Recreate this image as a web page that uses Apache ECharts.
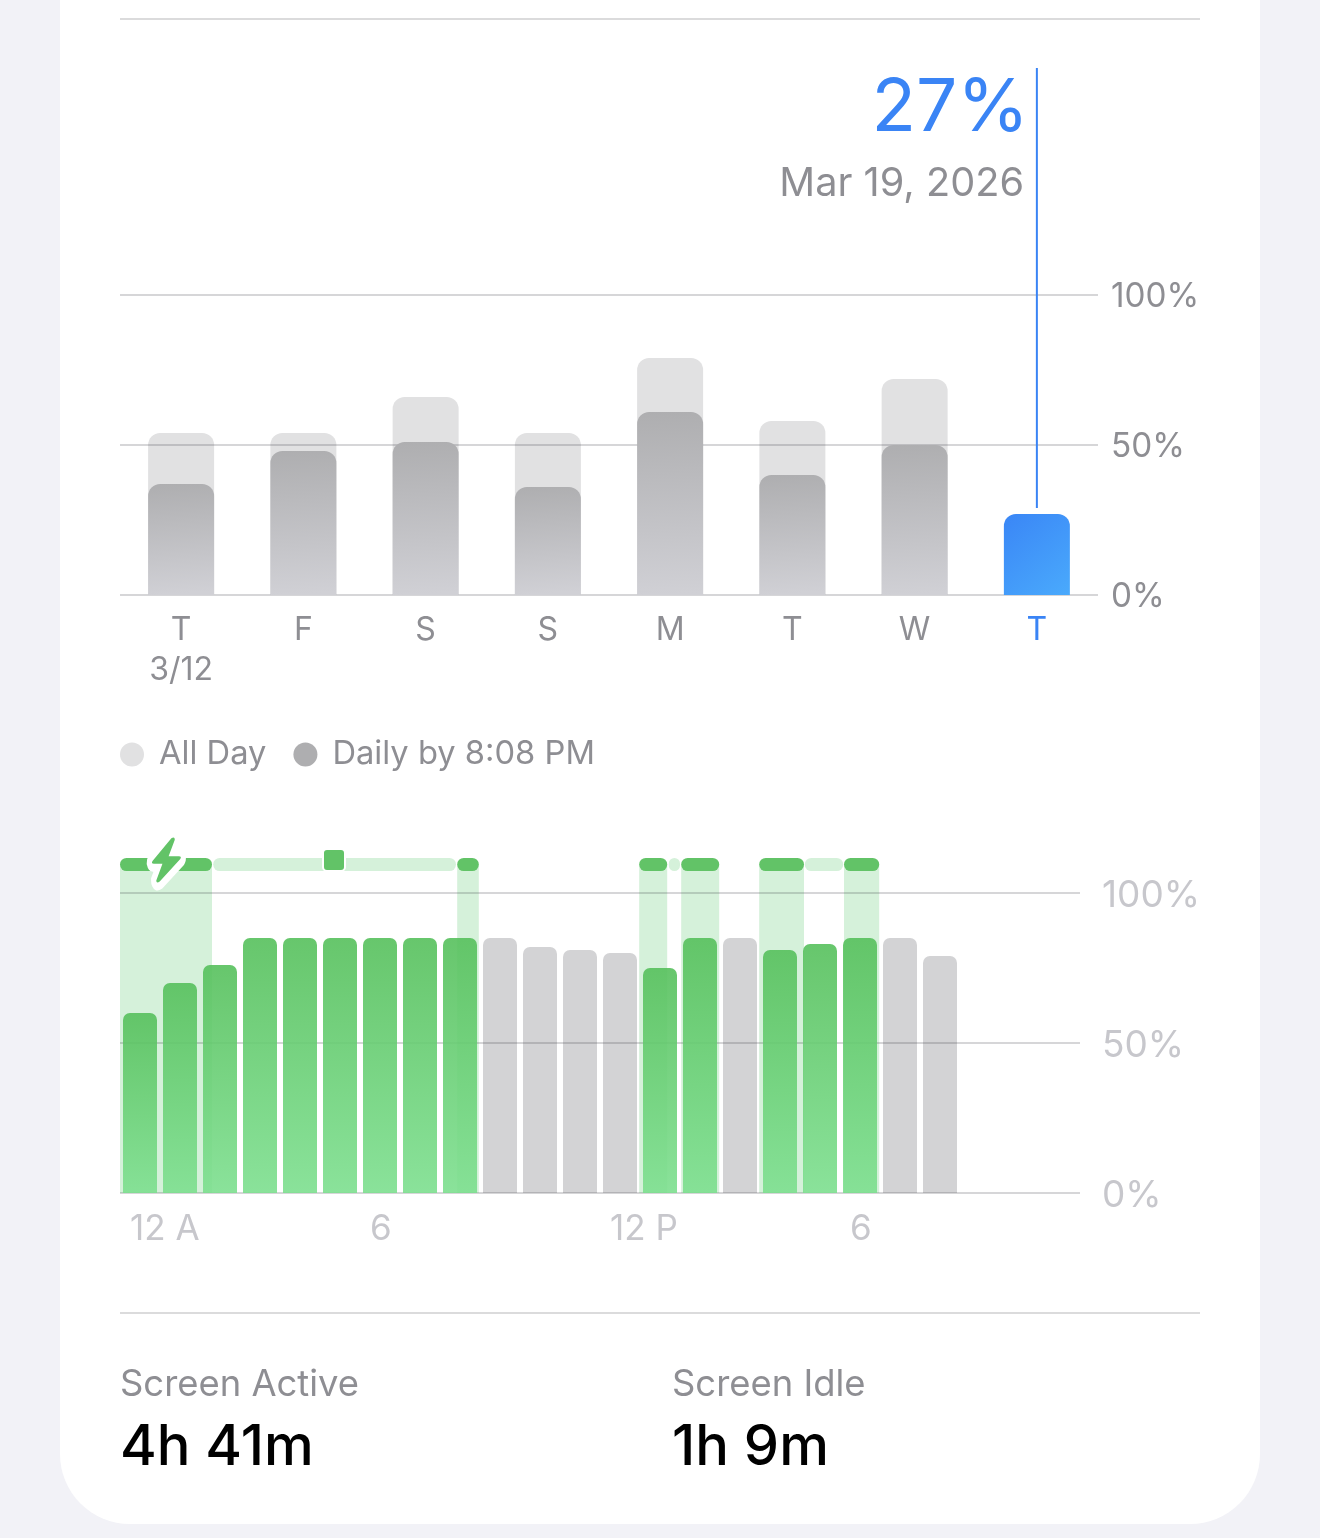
<!DOCTYPE html>
<html><head><meta charset="utf-8">
<style>html,body{margin:0;padding:0;background:#f2f2f7}#c{width:1320px;height:1538px}</style>
<script src="https://cdn.jsdelivr.net/npm/echarts@6/dist/echarts.min.js"></script>
</head><body><div id="c"></div>
<script>
const dayLabels = ['T\n3/12','F','S','S','M','T','W','T'];
const allDay = [54,54,66,54,79,58,72,null];
const byTime = [37,48,51,36,61,40,50,27];
const todayIndex = 7;
const hourLabels = ['12 A','6','12 P','6',''];
const hourCats = Array.from({length:24},(_,i)=>String(i));
const hourLevels = [60,70,76,85,85,85,85,85,85,85,82,81,80,75,85,85,81,83,85,85,79];
const hourCharging = [1,1,1,1,1,1,1,1,1,0,0,0,0,1,1,0,1,1,1,0,0];
const chargingSpans = [[0,2.3],[8.43,8.97],[12.98,13.68],[14.03,14.98],[15.98,17.1],[18.1,18.98]];
const idleSpans = [[2.33,8.4],[13.72,14.0],[17.12,18.08]];
const markerSquare = [[5.35,111]];
const markerBolt = [[1.16,111]];
const highlight = [[7,29,175.7]];
const yTicks = {0:'0%',50:'50%',100:'100%'};
const stats = [['Screen Active','4h 41m'],['Screen Idle','1h 9m']];
const legendNames = ['All Day','Daily by 8:08 PM'];
const headline = ['27%','Mar 19, 2026'];

const FONT='Inter, "Noto Sans", sans-serif';
const GREY='#8e8e93', LINE='rgba(60,60,67,0.28)';
const BOLT='path://M58 2 L3 68 Q-2 76 7 76 L32 76 L14 124 Q14 134 24 127 L84 62 Q89 54 80 54 L50 54 L68 6 Q68 -4 58 2 Z';
const lg=(a,b,x2=0)=>new echarts.graphic.LinearGradient(0,0,x2,1,[{offset:0,color:a},{offset:1,color:b}]);
const chart=echarts.init(document.getElementById('c'),null,{renderer:'canvas',width:1320,height:1538});

const txt=(x,y,text,size,color,extra={})=>({type:'text',z:10,x,y,style:Object.assign({text,fontFamily:FONT,fontSize:size,fill:color,textVerticalAlign:'middle'},extra)});
const hr=y=>({type:'line',z:1,shape:{x1:120,y1:y,x2:1200,y2:y},style:{stroke:'#cfcfd1',lineWidth:1.5}});
const yLabel=(size,color,margin,pad)=>({margin,color,fontFamily:FONT,fontSize:size,
  formatter:v=>'{a|'+yTicks[v]+'}',
  rich:{a:{fontSize:size,color,fontFamily:FONT,padding:[pad,0,0,0]}}});

const pill=(params,api,fill)=>{
  const a=api.coord([api.value(0),111.7]), b=api.coord([api.value(1),107.3]);
  return {type:'rect',shape:{x:a[0],y:a[1],width:b[0]-a[0],height:b[1]-a[1],r:6.5},style:{fill}};
};

chart.setOption({
  animation:false,
  backgroundColor:'#f2f2f7',
  textStyle:{fontFamily:FONT},
  graphic:[
    {type:'rect',z:-10,shape:{x:60,y:-80,width:1200,height:1604,r:[0,0,70,70]},style:{fill:'#fff'}},
    hr(19),hr(1313),
    txt(1029,109,headline[0],73,'#3a84f5',{textAlign:'right'}),
    txt(1024,184,headline[1],39.7,GREY,{textAlign:'right'}),
    txt(120,1385,stats[0][0],36.4,GREY),
    txt(120,1448,stats[0][1],56,'#000',{fontWeight:500}),
    txt(672,1385,stats[1][0],36.4,GREY),
    txt(672,1448,stats[1][1],56,'#000',{fontWeight:500})
  ],
  legend:{left:120,top:738,padding:0,itemWidth:24,itemHeight:24,itemGap:27,icon:'circle',
    textStyle:{color:GREY,fontSize:32.7,fontFamily:FONT,padding:[0,0,0,10]},
    data:[{name:legendNames[0],itemStyle:{color:'#e1e1e2'}},{name:legendNames[1],itemStyle:{color:'#aeaeb0'}}]},
  grid:[
    {left:120,width:978,top:295,height:300},
    {left:120,width:960,top:893,height:300}
  ],
  xAxis:[
    {type:'category',gridIndex:0,data:dayLabels,axisLine:{show:false},axisTick:{show:false},
     axisLabel:{fontSize:32,lineHeight:40,margin:15,verticalAlign:'top',fontFamily:FONT,
       color:(v,i)=>i===todayIndex?'#3a84f5':GREY}},
    {type:'category',gridIndex:1,data:hourCats,axisLine:{show:false},axisTick:{show:false},axisLabel:{show:false}},
    {type:'value',gridIndex:1,min:0,max:24,interval:6,position:'bottom',splitLine:{show:false},axisLine:{show:false},axisTick:{show:false},
     axisLabel:{align:'left',padding:[0,0,0,10],margin:19,fontSize:35,color:'#c7c7cc',fontFamily:FONT,
       formatter:v=>hourLabels[v/6]}}
  ],
  yAxis:[
    {type:'value',gridIndex:0,min:0,max:100,interval:50,position:'right',z:2,
     splitLine:{lineStyle:{color:LINE,width:1.5}},axisLine:{show:false},axisTick:{show:false},
     axisLabel:yLabel(33.3,GREY,13,3)},
    {type:'value',gridIndex:1,min:0,max:100,interval:50,position:'right',z:2,
     splitLine:{lineStyle:{color:LINE,width:1.5}},axisLine:{show:false},axisTick:{show:false},
     axisLabel:yLabel(37,'#c7c7cc',22,5)}
  ],
  series:[
    {name:legendNames[0],type:'bar',xAxisIndex:0,yAxisIndex:0,data:allDay,barWidth:66,barGap:'-100%',z:1,
     itemStyle:{color:'#e1e1e2',borderRadius:[12,12,0,0]}},
    {name:legendNames[1],type:'bar',xAxisIndex:0,yAxisIndex:0,barWidth:66,z:3,
     data:byTime.map((v,i)=>i===todayIndex
       ?{value:v,itemStyle:{color:lg('#3a86f6','#4aaafc',1),borderRadius:[12,12,0,0]}}
       :{value:v,itemStyle:{color:lg('#aeaeb0','#d0d0d5',0.12),borderRadius:[12,12,0,0]}})},
    {type:'custom',xAxisIndex:0,yAxisIndex:0,z:5,data:highlight,
     renderItem:(p,api)=>{const a=api.coord([api.value(0),api.value(2)]),b=api.coord([api.value(0),api.value(1)]);
       return {type:'line',shape:{x1:a[0],y1:a[1],x2:b[0],y2:b[1]},style:{stroke:'#3a84f5',lineWidth:2}};}},
    {type:'custom',xAxisIndex:2,yAxisIndex:1,z:1,data:chargingSpans,
     renderItem:(p,api)=>{const a=api.coord([api.value(0),109.5]),b=api.coord([api.value(1),0]);
       return {type:'rect',shape:{x:a[0],y:a[1],width:b[0]-a[0],height:b[1]-a[1]},style:{fill:'#d5f1da'}};}},
    {type:'bar',xAxisIndex:1,yAxisIndex:1,barWidth:34,barGap:'-100%',z:1,
     data:hourLevels.map((v,i)=>hourCharging[i]?null:v),
     itemStyle:{borderRadius:[7,7,0,0],color:'#d3d3d5'}},
    {type:'bar',xAxisIndex:1,yAxisIndex:1,barWidth:34,z:3,
     data:hourLevels.map((v,i)=>hourCharging[i]?v:null),
     itemStyle:{borderRadius:[7,7,0,0],opacity:0.9,color:lg('#56c05c','#7ddf8f')}},
    {type:'custom',xAxisIndex:2,yAxisIndex:1,z:4,data:idleSpans,renderItem:(p,api)=>pill(p,api,'#d5f1da')},
    {type:'custom',xAxisIndex:2,yAxisIndex:1,z:4,data:chargingSpans,renderItem:(p,api)=>pill(p,api,'#62c367')},
    {type:'custom',xAxisIndex:2,yAxisIndex:1,z:5,data:markerSquare,
     renderItem:(p,api)=>{const c=api.coord([api.value(0),api.value(1)]);
       return {type:'rect',shape:{x:c[0]-11,y:c[1]-11,width:22,height:22,r:4},style:{fill:'#62c367',stroke:'#fff',lineWidth:2}};}},
    {type:'scatter',xAxisIndex:2,yAxisIndex:1,z:6,clip:false,data:markerBolt,symbolSize:[29,45],symbol:BOLT,silent:true,
     itemStyle:{color:'#fff',borderColor:'#fff',borderWidth:13,opacity:1}},
    {type:'scatter',xAxisIndex:2,yAxisIndex:1,z:7,clip:false,data:markerBolt,symbolSize:[29,45],symbol:BOLT,silent:true,
     itemStyle:{color:'#62c367',opacity:1}}
  ]
});
</script></body></html>
